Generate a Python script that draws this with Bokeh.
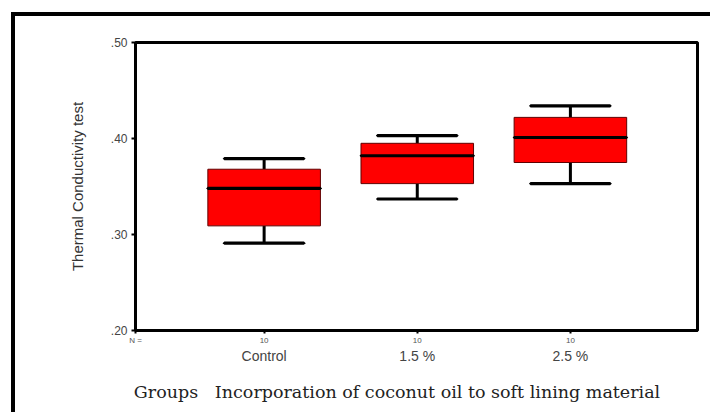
from bokeh.plotting import figure
from bokeh.models import (Range1d, FixedTicker, LinearAxis, ColumnDataSource, InlineStyleSheet)
from bokeh.embed import file_html
from bokeh.resources import INLINE

# ---- data ----
groups = ["Control", "1.5 %", "2.5 %"]
n_per_group = ["10", "10", "10"]
lower_whisker = [0.291, 0.337, 0.353]
q1 = [0.309, 0.353, 0.375]
median = [0.348, 0.382, 0.401]
q3 = [0.368, 0.395, 0.422]
upper_whisker = [0.379, 0.403, 0.434]
y_ticks = [0.20, 0.30, 0.40, 0.50]
y_tick_labels = [".20", ".30", ".40", ".50"]

xpos = [1, 2, 3]
src = ColumnDataSource(dict(x=xpos, lw=lower_whisker, q1=q1, med=median, q3=q3, uw=upper_whisker))

frame_css = InlineStyleSheet(css="""
:host { position: relative; }
:host::after {
  content: '';
  position: absolute;
  left: 11px;
  top: 12px;
  width: 1200px;
  height: 1200px;
  border-left: 4px solid black;
  border-top: 4px solid black;
  pointer-events: none;
  z-index: 100;
}
""")

p = figure(width=702, height=404, output_backend="svg", toolbar_location=None,
           x_range=Range1d(0.16, 3.83), y_range=Range1d(0.20, 0.50),
           min_border_left=135, min_border_right=5, min_border_top=42, min_border_bottom=73,
           stylesheets=[frame_css])
p.grid.visible = False
p.outline_line_color = "black"
p.outline_line_width = 3
p.background_fill_color = "white"
p.border_fill_color = "white"

# whisker stems
p.segment(x0="x", y0="q3", x1="x", y1="uw", source=src, line_color="black", line_width=3)
p.segment(x0="x", y0="lw", x1="x", y1="q1", source=src, line_color="black", line_width=3)
# whisker caps
p.rect(x="x", y="uw", width=0.52, height=0.0001, source=src, fill_alpha=0, line_color="black", line_width=3)
p.rect(x="x", y="lw", width=0.52, height=0.0001, source=src, fill_alpha=0, line_color="black", line_width=3)
# boxes
p.vbar(x="x", bottom="q1", top="q3", width=0.735, source=src,
       fill_color="#ff0000", line_color="#600000", line_width=1)
# medians
p.rect(x="x", y="med", width=0.735, height=0.0001, source=src, fill_alpha=0, line_color="black", line_width=3)

# y axis
ya = p.yaxis[0]
ya.ticker = FixedTicker(ticks=y_ticks)
ya.major_label_overrides = {t: l for t, l in zip(y_ticks, y_tick_labels)}
ya.minor_tick_line_color = None
ya.major_tick_in = 0
ya.major_tick_out = 4
ya.major_tick_line_width = 2
ya.axis_line_width = 3
ya.major_label_text_font = "Liberation Sans"
ya.major_label_text_font_size = "12px"
ya.major_label_text_color = "#444444"
ya.major_label_standoff = 4
ya.axis_label = "Thermal Conductivity test"
ya.axis_label_text_font = "Liberation Sans"
ya.axis_label_text_font_style = "normal"
ya.axis_label_text_font_size = "15px"
ya.axis_label_text_color = "#333333"
ya.axis_label_standoff = 22

# x axis 1: N counts
xa = p.xaxis[0]
xa.ticker = FixedTicker(ticks=[0.16] + xpos)
ov = {0.16: "N ="}
ov.update({x: n for x, n in zip(xpos, n_per_group)})
xa.major_label_overrides = ov
xa.minor_tick_line_color = None
xa.major_tick_in = 0
xa.major_tick_out = 3
xa.major_tick_line_width = 2
xa.axis_line_width = 3
xa.major_label_text_font = "Liberation Sans"
xa.major_label_text_font_size = "8px"
xa.major_label_text_color = "#555555"
xa.major_label_standoff = 2

# x axis 2: group names + title
xa2 = LinearAxis(ticker=FixedTicker(ticks=xpos),
                 major_label_overrides={x: g for x, g in zip(xpos, groups)})
xa2.axis_line_color = None
xa2.major_tick_line_color = None
xa2.minor_tick_line_color = None
xa2.major_label_text_font = "Liberation Sans"
xa2.major_label_text_font_size = "14px"
xa2.major_label_text_color = "#444444"
xa2.major_label_standoff = -6
xa2.axis_label = "Groups\u00a0\u00a0\u00a0Incorporation of coconut oil to soft lining material" + "\u00a0" * 7
xa2.axis_label_text_font = "DejaVu Serif"
xa2.axis_label_text_font_style = "normal"
xa2.axis_label_text_font_size = "17.5px"
xa2.axis_label_text_color = "#222222"
xa2.axis_label_standoff = 15
p.add_layout(xa2, "below")

open("out.html", "w").write(file_html(p, INLINE))
